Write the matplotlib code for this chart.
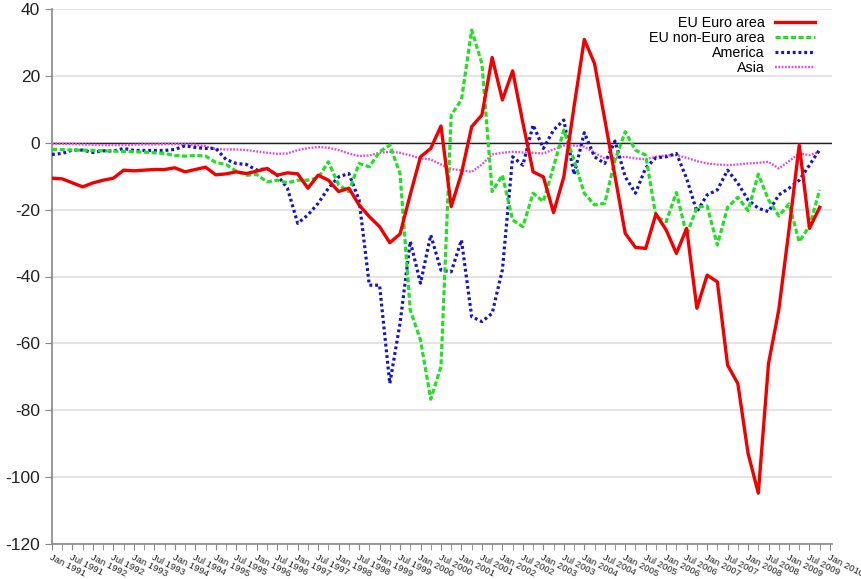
import numpy as np
import matplotlib
matplotlib.use('Agg')
import matplotlib.pyplot as plt

# quarterly values, Jan 1991 .. Oct 2009
start_year = 1991
euro_area = [-10.6, -10.8, -12.0, -13.2, -12.0, -11.2, -10.6, -8.2, -8.4, -8.2,
             -8.0, -8.0, -7.5, -8.7, -8.0, -7.3, -9.6, -9.3, -8.7, -9.2,
             -8.5, -7.7, -9.7, -9.0, -9.3, -13.6, -9.7, -11.2, -14.6, -13.6,
             -18.6, -22.1, -25.1, -29.9, -27.3, -15.5, -4.2, -1.7, 5.0, -19.1,
             -9.2, 4.8, 8.3, 25.5, 12.8, 21.5, 6.0, -8.7, -10.2, -20.9,
             -10.2, 10.8, 30.9, 23.7, 7.0, -10.0, -27.1, -31.3, -31.6, -21.3,
             -26.1, -33.1, -25.6, -49.5, -39.6, -41.6, -66.5, -72.0, -92.9, -104.8,
             -66.0, -50.0, -26.0, -0.7, -25.6, -19.3]
non_euro = [-2.0, -2.0, -2.2, -2.2, -2.3, -2.4, -2.5, -2.6, -2.7, -2.8,
            -3.0, -3.2, -3.8, -4.0, -3.8, -4.0, -5.9, -6.5, -8.5, -9.7,
            -9.5, -11.7, -11.2, -12.0, -11.2, -11.2, -10.5, -5.7, -12.6, -14.6,
            -6.2, -7.2, -2.7, -0.7, -9.2, -50.0, -59.0, -76.7, -67.0, 8.3,
            12.8, 33.7, 23.7, -14.6, -9.7, -23.1, -25.1, -15.1, -17.6, -7.2,
            3.8, -5.2, -15.1, -18.6, -18.1, -5.2, 3.3, -2.2, -3.7, -22.1,
            -23.6, -14.9, -27.6, -19.3, -18.9, -30.6, -19.3, -16.3, -20.3, -9.4,
            -17.1, -21.9, -18.3, -29.6, -24.9, -14.1]
america = [-3.5, -3.2, -2.2, -2.2, -2.9, -2.4, -2.5, -1.7, -2.3, -2.3,
           -2.3, -2.3, -2.0, -0.9, -1.4, -1.7, -1.7, -5.0, -6.2, -6.5,
           -8.2, -7.7, -9.7, -13.6, -24.1, -21.6, -18.1, -13.6, -10.2, -9.2,
           -17.1, -42.6, -42.6, -72.0, -54.0, -29.5, -42.0, -27.6, -38.1, -38.6,
           -29.1, -52.0, -53.5, -51.0, -38.0, -4.2, -6.7, 5.3, -1.7, 3.8,
           6.8, -9.5, 3.0, -4.2, -6.2, 0.5, -10.2, -15.1, -7.5, -4.5,
           -4.2, -3.2, -10.7, -20.6, -15.6, -14.1, -8.2, -12.1, -17.1, -19.6,
           -20.6, -15.6, -13.6, -11.2, -6.7, -2.0]
asia = [-0.3, -0.3, -0.4, -0.5, -0.6, -0.7, -0.7, -0.7, -0.6, -0.5,
        -0.5, -0.4, -0.4, -0.5, -0.6, -1.0, -1.9, -2.0, -2.0, -2.2,
        -2.6, -3.0, -3.3, -3.2, -2.2, -1.6, -1.3, -1.5, -2.2, -3.2,
        -4.0, -3.8, -3.0, -2.7, -3.0, -3.8, -4.7, -5.0, -6.5, -7.8,
        -8.3, -8.7, -6.5, -3.5, -3.0, -2.7, -2.9, -3.0, -3.2, -2.0,
        -0.8, -0.8, -1.2, -3.0, -4.7, -4.5, -4.2, -4.7, -4.9, -4.2,
        -3.8, -3.7, -4.5, -5.5, -6.2, -6.5, -6.7, -6.5, -6.2, -6.0,
        -5.7, -7.7, -5.5, -3.2, -3.7, -2.7]
labels = ['EU Euro area', 'EU non-Euro area', 'America', 'Asia']
yticks = [40, 20, 0, -20, -40, -60, -80, -100, -120]
tick_years = list(range(1991, 2010))

plt.rcParams['font.family'] = ['Liberation Sans', 'DejaVu Sans']

t = start_year + np.arange(len(euro_area)) / 4.0

fig = plt.figure(figsize=(8.61, 5.79), dpi=100)
ax = fig.add_axes([52/861, 1-544/579, (832-52)/861, (544-9)/579])

l4, = ax.plot(t, asia, color='#e050e0', lw=1.7, zorder=3)
l4.set_dashes((0.8, 0.6))
l3, = ax.plot(t, america, color='#1414cc', lw=2.3, zorder=4)
l3.set_dashes((0.9, 0.9))
l2, = ax.plot(t, non_euro, color='#22e022', lw=2.3, zorder=5)
l2.set_dashes((1.6, 0.8))
l1, = ax.plot(t, euro_area, color='#f20000', lw=2.4, zorder=6)

ax.axhline(0, color='#222222', lw=1, zorder=2)
ax.set_ylim(-120, 40)
ax.set_xlim(1991, 2010.05)
ax.set_yticks(yticks)
ax.set_yticklabels([str(v) for v in yticks], fontsize=12.5)
ax.yaxis.grid(True, color='#e4e4e4', lw=1.5, zorder=0)
ax.set_axisbelow(True)

major = []
major_lab = []
for y in tick_years + [2010]:
    major.append(y)
    major_lab.append('Jan %d' % y)
    if y < 2010:
        major.append(y + 0.5)
        major_lab.append('Jul %d' % y)
ax.set_xticks(major)
ax.set_xticklabels(major_lab, rotation=-27, ha='left', va='top',
                   rotation_mode='anchor', fontsize=6.8, color='#222222')
ax.set_xticks(np.arange(1991.25, 2010, 0.5), minor=True)
ax.tick_params(axis='x', which='both', direction='out', length=4,
               color='#888888', pad=2)
ax.tick_params(axis='y', direction='out', length=5, color='#888888',
               labelcolor='#222222')

for s in ['top', 'right']:
    ax.spines[s].set_visible(False)
for s in ['left', 'bottom']:
    ax.spines[s].set_color('#888888')
    ax.spines[s].set_linewidth(1.2)

fig.legend([l1, l2, l3, l4], labels, loc='upper right',
           bbox_to_anchor=(815/861, 1-16/579), frameon=False,
           markerfirst=False, fontsize=10.3, labelspacing=0.07,
           handlelength=2.8, handletextpad=0.7, borderpad=0,
           borderaxespad=0)

plt.savefig('out.png', dpi=100)
print('done')
